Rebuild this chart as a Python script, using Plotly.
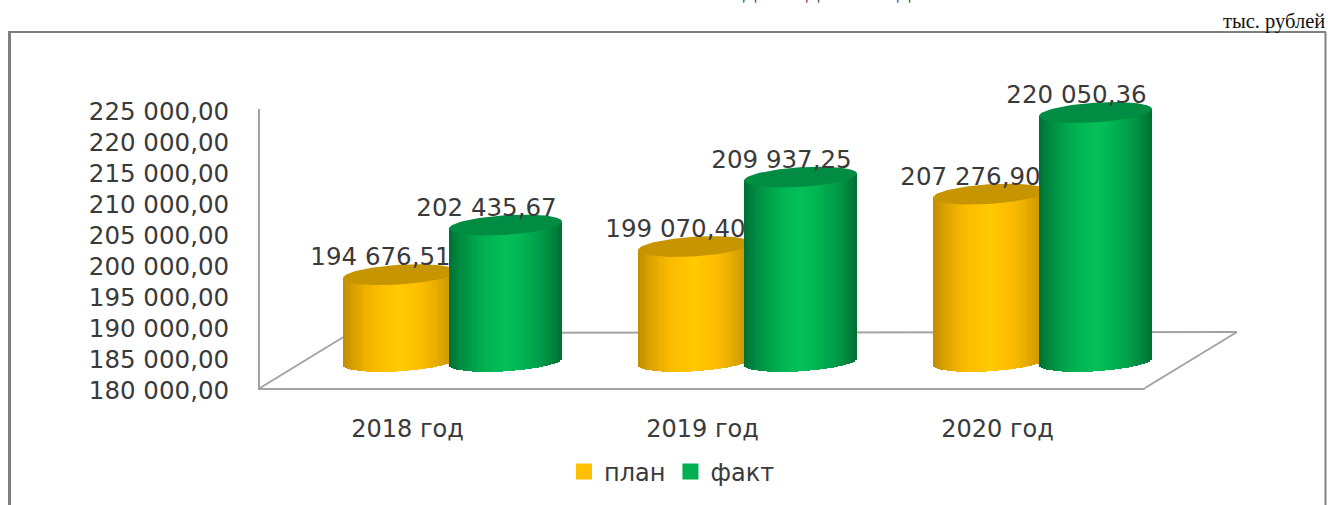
import numpy as np
import plotly.graph_objects as go

# ---- data ----
categories = ["2018 год", "2019 год", "2020 год"]
plan = [194676.51, 199070.40, 207276.90]
fact = [202435.67, 209937.25, 220050.36]
plan_labels = ["194 676,51", "199 070,40", "207 276,90"]
fact_labels = ["202 435,67", "209 937,25", "220 050,36"]
y_ticks = [180000, 185000, 190000, 195000, 200000, 205000, 210000, 215000, 220000, 225000]
y_tick_labels = ["180 000,00", "185 000,00", "190 000,00", "195 000,00", "200 000,00",
                 "205 000,00", "210 000,00", "215 000,00", "220 000,00", "225 000,00"]

# ---- page geometry / style ----
W, H = 1328, 505
FONT = "DejaVu Sans"
TXT = "#3a3a3a"
GRID = "#a3a3a3"
FRAME = "#808080"
PLOT_L, PLOT_R, PLOT_T, PLOT_B = 260, 1145, 109, 388

# bar plane (depth-shifted second pair of axes that covers the whole page)
CAT_STEP = 295.0
CAT0_PX = 452.5
K = 0.00639            # px per rouble in the bar plane
ZERO_PX = 368.4        # page y of 180000 in the bar plane
FLOOR_PX = 361.5       # page y of the centre of bar bottoms
OFFSET = 53.0 / CAT_STEP
HALF_W = 56.5 / CAT_STEP
ELL_B = 9.8 / K        # ellipse half height
ELL_T = 3.5 / K        # ellipse tilt (right end higher)
base_val = 180000 + (ZERO_PX - FLOOR_PX) / K

x2_range = [(0 - CAT0_PX) / CAT_STEP, (W - CAT0_PX) / CAT_STEP]
y2_range = [180000 - (H - ZERO_PX) / K, 180000 + ZERO_PX / K]

PLAN_STOPS = ["#c08c00", "#d8a000", "#eeb000", "#fbbc00", "#ffc200", "#ffcb00",
              "#ffc200", "#fbbc00", "#eeb000", "#d8a000", "#c08c00"]
FACT_STOPS = ["#006e33", "#008a40", "#009e49", "#00ae50", "#02b955", "#06bf5a",
              "#02b955", "#00ae50", "#009e49", "#008a40", "#006e33"]


def grad(stops, t):
    pos = t * (len(stops) - 1)
    i = min(int(pos), len(stops) - 2)
    f = pos - i
    a = [int(stops[i][j:j + 2], 16) for j in (1, 3, 5)]
    b = [int(stops[i + 1][j:j + 2], 16) for j in (1, 3, 5)]
    return "rgb(%d,%d,%d)" % tuple(round(a[k] + (b[k] - a[k]) * f) for k in range(3))


def cylinder(values, shift, stops, top_color, xa, ya):
    """Body strips as one bar trace, plus top ellipses as filled scatter traces."""
    N = 48
    xs, bases, heights, colors = [], [], [], []
    for i, v in enumerate(values):
        cx = i + shift
        for s in range(N):
            t = (s + 0.5) / N
            u = 2 * t - 1
            low = base_val - ELL_B * np.sqrt(1 - u * u) + ELL_T * u
            high = v + ELL_T * u
            xs.append(cx + u * HALF_W)
            bases.append(low)
            heights.append(high - low)
            colors.append(grad(stops, t))
    out = [go.Bar(x=xs, y=heights, base=bases, width=2 * HALF_W / N * 1.25,
                  marker=dict(color=colors, line=dict(width=0)), xaxis=xa, yaxis=ya,
                  showlegend=False, hoverinfo="skip")]
    th = np.linspace(0, 2 * np.pi, 120)
    for i, v in enumerate(values):
        cx = i + shift
        out.append(go.Scatter(
            x=cx + HALF_W * np.cos(th),
            y=v + ELL_B * np.sin(th) + ELL_T * np.cos(th),
            mode="lines", fill="toself", fillcolor=top_color,
            line=dict(width=0, color=top_color), xaxis=xa, yaxis=ya,
            showlegend=False, hoverinfo="skip"))
    return out


fig = go.Figure()

# front-plane axes: carries the tick labels and legend entries
cat_idx = list(range(len(categories)))
fig.add_trace(go.Scatter(x=cat_idx, y=plan, mode="markers", marker=dict(opacity=0),
                         showlegend=False, hoverinfo="skip"))
fig.add_trace(go.Scatter(x=[None], y=[None], mode="markers", name="план",
                         marker=dict(symbol="square", size=16, color="#ffc000")))
fig.add_trace(go.Scatter(x=[None], y=[None], mode="markers", name="факт",
                         marker=dict(symbol="square", size=16, color="#00b050")))

for tr in cylinder(plan, -OFFSET, PLAN_STOPS, "#c69500", "x2", "y2"):
    fig.add_trace(tr)
for tr in cylinder(fact, OFFSET, FACT_STOPS, "#008c42", "x3", "y3"):
    fig.add_trace(tr)

# data labels
LAB_DX = -19 / CAT_STEP
LAB_DY = 15.5 / K
fig.add_trace(go.Scatter(
    x=[i - OFFSET + LAB_DX for i in cat_idx] + [i + OFFSET + LAB_DX for i in cat_idx],
    y=[v + LAB_DY for v in plan] + [v + LAB_DY for v in fact],
    text=plan_labels + fact_labels, mode="text", textposition="middle center",
    textfont=dict(family=FONT, size=24.5, color=TXT), xaxis="x3", yaxis="y3",
    showlegend=False, hoverinfo="skip"))

px = lambda v: v / W
py = lambda v: 1 - v / H
line_grid = dict(color=GRID, width=2)
shapes = [
    # floor (side and back edges)
    dict(type="line", xref="paper", yref="paper", layer="below", line=line_grid,
         x0=px(PLOT_L), y0=py(PLOT_B), x1=px(350), y1=py(333)),
    dict(type="line", xref="paper", yref="paper", layer="below", line=line_grid,
         x0=px(350), y0=py(333), x1=px(1237), y1=py(332)),
    dict(type="line", xref="paper", yref="paper", layer="below", line=line_grid,
         x0=px(1237), y0=py(332), x1=px(PLOT_R), y1=py(PLOT_B)),
    # outer frame
    dict(type="line", xref="paper", yref="paper", line=dict(color=FRAME, width=3),
         x0=px(9.5), y0=py(32), x1=px(9.5), y1=0),
    dict(type="line", xref="paper", yref="paper", line=dict(color=FRAME, width=2),
         x0=px(8), y0=py(32), x1=px(1326), y1=py(32)),
    dict(type="line", xref="paper", yref="paper", line=dict(color=FRAME, width=2),
         x0=px(1325.5), y0=py(32), x1=px(1325.5), y1=0),
]

annotations = [
    dict(text="тыс. рублей", xref="paper", yref="paper", x=px(1327), y=py(21),
         xanchor="right", yanchor="middle", showarrow=False,
         font=dict(family="Liberation Serif", size=20.5, color="#111111")),
]
# clipped remains of the heading line above the picture
for hx in (750, 813, 904):
    annotations.append(dict(text="Д", xref="paper", yref="paper", x=px(hx), y=py(5),
                            xanchor="center", yanchor="bottom", showarrow=False,
                            font=dict(family="Liberation Serif", size=20, color="#333333")))

hidden = dict(visible=False, fixedrange=True)
fig.update_layout(
    width=W, height=H, autosize=False,
    margin=dict(l=0, r=0, t=0, b=0, pad=0, autoexpand=False),
    paper_bgcolor="white", plot_bgcolor="rgba(0,0,0,0)",
    barmode="overlay", bargap=0,
    shapes=shapes, annotations=annotations,
    xaxis=dict(domain=[px(PLOT_L), px(PLOT_R)], range=[-0.5, 2.5], tickmode="array",
               tickvals=cat_idx, ticktext=categories, showgrid=False, zeroline=False,
               showline=True, linecolor=GRID, linewidth=2, ticks="", ticklabelstandoff=18,
               tickfont=dict(family=FONT, size=24, color=TXT)),
    yaxis=dict(domain=[py(PLOT_B), py(PLOT_T)], range=[180000, 225000], tickmode="array",
               tickvals=y_ticks, ticktext=y_tick_labels, showgrid=False, zeroline=False,
               showline=True, linecolor=GRID, linewidth=2, ticks="", ticklabelstandoff=24,
               ticklabelshift=2, tickfont=dict(family=FONT, size=24.5, color=TXT)),
    xaxis2=dict(domain=[0, 1], range=x2_range, anchor="y2", **hidden),
    yaxis2=dict(domain=[0, 1], range=y2_range, anchor="x2", **hidden),
    xaxis3=dict(range=x2_range, overlaying="x2", anchor="y3", **hidden),
    yaxis3=dict(range=y2_range, overlaying="y2", anchor="x3", **hidden),
    legend=dict(orientation="h", x=px(672), y=py(472), xanchor="center", yanchor="middle",
                font=dict(family=FONT, size=24, color=TXT), bgcolor="rgba(0,0,0,0)",
                itemwidth=30, tracegroupgap=0),
)

fig.write_html("out.html", config=dict(displayModeBar=False),
               post_script="document.body.style.margin='0';document.body.style.overflow='hidden';")
